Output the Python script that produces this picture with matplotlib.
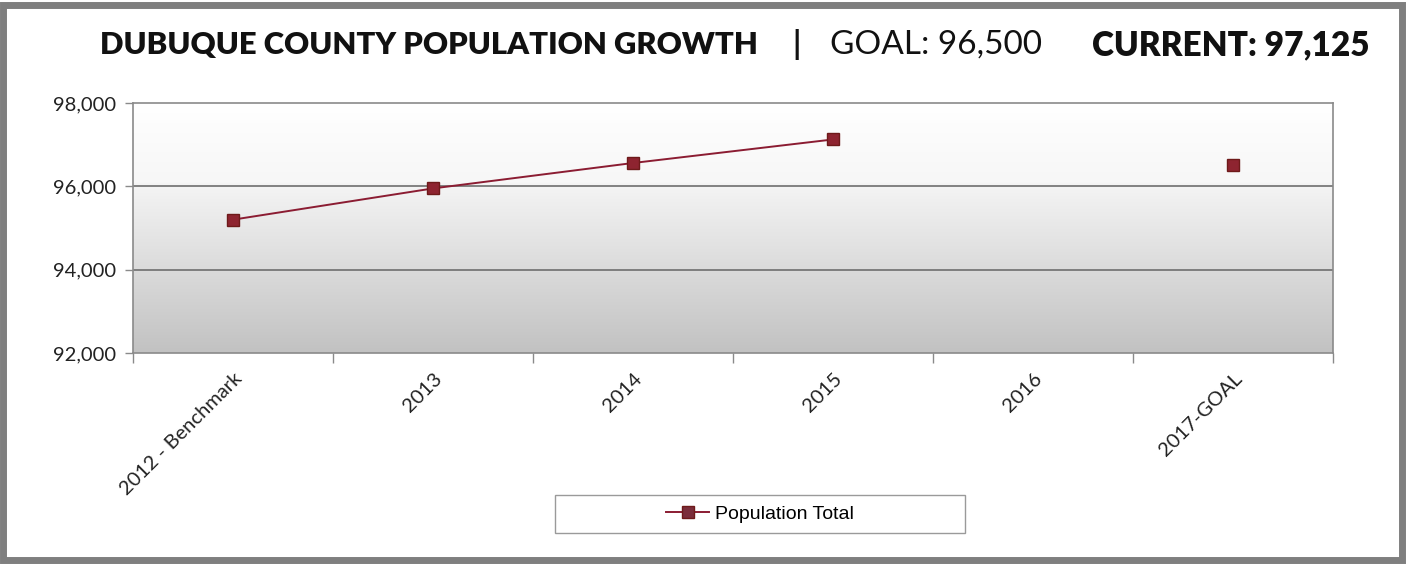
import numpy as np
import matplotlib.pyplot as plt
from matplotlib.patches import Rectangle
from matplotlib.lines import Line2D

categories = ['2012 - Benchmark', '2013', '2014', '2015', '2016', '2017-GOAL']
population = [95200, 95950, 96560, 97125, np.nan, 96500]
y_ticks = [92000, 94000, 96000, 98000]

W, H = 1408, 564
fig = plt.figure(figsize=(W / 100, H / 100), dpi=100)
fig.patch.set_facecolor('white')

# outer frame
fig.patches.append(Rectangle((3 / W, 4 / H), 1 - 9 / W, 1 - 9 / H, transform=fig.transFigure,
                             fill=False, edgecolor='#7f7f7f', linewidth=5))

# axes placed in pixel terms
left, right, top, bottom = 133, 1333, 103, 353
ax = fig.add_axes([left / W, 1 - bottom / H, (right - left) / W, (bottom - top) / H])

x = np.arange(len(categories))
ax.set_xlim(-0.5, len(categories) - 0.5)
ax.set_ylim(92000, 98000)

# gradient background
vals = np.linspace(1, 0, 256)  # top -> bottom
shade = np.where(vals > 0.68, 1.0 - (1 - vals) * 0.1, 0.96 - (0.68 - vals) / 0.68 * 0.2)
grad = np.dstack([shade, shade, shade])[0][:, None, :].repeat(2, axis=1)
ax.imshow(grad, extent=[-0.5, len(categories) - 0.5, 92000, 98000], aspect='auto', zorder=0)

for yv in [94000, 96000]:
    ax.axhline(yv, color='#6e6e6e', linewidth=1.2, zorder=1)

ax.plot(x, population, color='#8b1c32', linewidth=1.4, marker='s', markersize=9,
        markerfacecolor='#8e2430', markeredgecolor='#6e1a1a', zorder=3)

for s in ax.spines.values():
    s.set_color('#8a8a8a')
    s.set_linewidth(1.2)

ax.set_yticks(y_ticks)
ax.set_yticklabels([f'{v:,}' for v in y_ticks], fontsize=14.5, family='Lato', color='#222222')
ax.tick_params(axis='y', length=6, width=1, color='#8a8a8a', pad=6)

ax.set_xticks(np.arange(-0.5, len(categories)), minor=False)
ax.set_xticklabels([])
ax.tick_params(axis='x', which='major', length=7, width=1, color='#8a8a8a', direction='out')
ax.set_xticks(x, minor=True)
ax.set_xticklabels(categories, minor=True, rotation=45, ha='right', va='top',
                   rotation_mode='anchor', fontsize=14.5, family='Lato', color='#222222')
ax.tick_params(axis='x', which='minor', length=0, pad=12)

# title pieces
ty = 1 - 45 / H
fig.text(100 / W, ty, 'DUBUQUE COUNTY POPULATION GROWTH', fontsize=22.3, fontweight='heavy',
         family='Lato', va='center', ha='left', color='#111111')
fig.text(797 / W, ty, '|', fontsize=23, fontweight='bold', family='Lato', va='center',
         ha='center', color='#111111')
fig.text(830 / W, ty, 'GOAL: 96,500', fontsize=24, family='Lato', va='center', ha='left',
         color='#111111')
fig.text(1370 / W, ty, 'CURRENT: 97,125', fontsize=24, fontweight='heavy', family='Lato',
         va='center', ha='right', color='#111111')

# legend box
fig.patches.append(Rectangle((555 / W, 1 - 533 / H), 410 / W, 38 / H, transform=fig.transFigure,
                             facecolor='white', edgecolor='#9a9a9a', linewidth=1))
handle = Line2D([], [], color='#8b1c32', linewidth=1.4, marker='s', markersize=9,
                markerfacecolor='#7b2d3b', markeredgecolor='#6e1a1a')
fig.legend([handle], ['Population Total'], loc='center', bbox_to_anchor=(760 / W, 1 - 514 / H),
           frameon=False, prop={'family': 'Liberation Sans', 'size': 14}, handlelength=2.2,
           handletextpad=0.3)

fig.savefig('out.png', dpi=100)
